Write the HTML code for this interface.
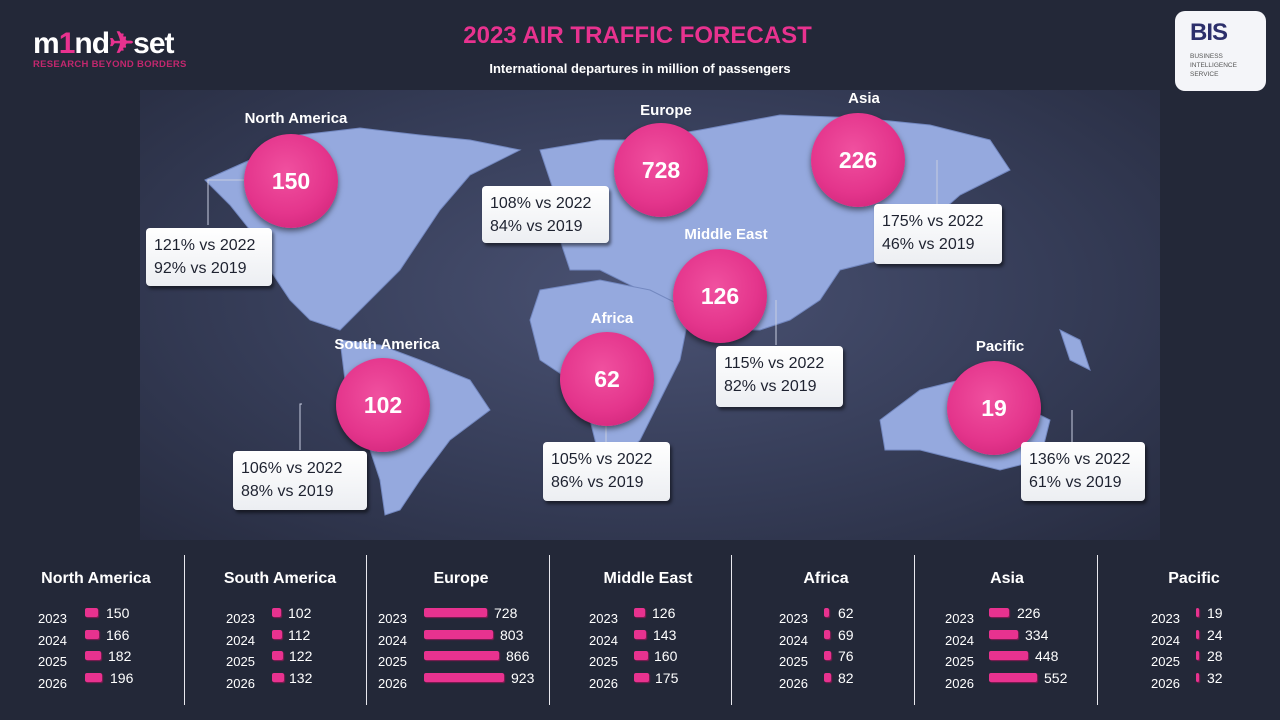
<!DOCTYPE html>
<html><head><meta charset="utf-8"><style>
*{margin:0;padding:0;box-sizing:border-box}
body{width:1280px;height:720px;overflow:hidden;background:#232838;font-family:"Liberation Sans",sans-serif;position:relative;color:#fff}
.abs{position:absolute}
.bub{position:absolute;width:94px;height:94px;border-radius:50%;background:radial-gradient(circle at 45% 40%,#f0509f 0%,#e4358c 55%,#c81f72 100%);box-shadow:0 3px 6px rgba(0,0,0,.5);color:#fff;font-weight:bold;font-size:23px;text-align:center;line-height:94px;margin:-47px 0 0 -47px}
.lab{position:absolute;font-weight:bold;font-size:15px;color:#fff;transform:translateX(-50%);white-space:nowrap}
.box{position:absolute;background:linear-gradient(#fff,#eceef2);border-radius:4px;box-shadow:2px 3px 3px rgba(0,0,0,.5);color:#1e2230;font-size:16px;line-height:23px;padding:6px 0 0 8px}
.col{position:absolute;top:570px;width:180px}
.col h3{font-size:16px;font-weight:bold;text-align:center;margin-bottom:19px}
.row{position:relative;height:21.5px;font-size:13px}
.row .y{position:absolute;top:4px}
.row .b{position:absolute;top:1px;height:9px;background:#e8328f;border-radius:2px;box-shadow:1px 1px 1px #8a1a55}
.row .v{position:absolute;top:-2px;font-size:14px}
.div{position:absolute;top:555px;width:1px;height:150px;background:#e8e8ee}
</style></head><body>
<div class="abs" style="left:140px;top:90px;width:1020px;height:450px;background:radial-gradient(ellipse at 50% 45%,#4a5273 0%,#363d58 55%,#272c40 100%)"></div>
<svg class="abs" style="left:0;top:0" width="1280" height="720">
<g fill="#95a9de" stroke="#7388c0" stroke-width="1">
<path d="M205 180 L250 160 L300 135 L360 128 L420 135 L470 140 L520 150 L470 175 L440 210 L420 240 L400 270 L370 300 L340 330 L310 320 L290 300 L270 270 L250 230 L230 205 Z"/>
<path d="M340 340 L380 345 L420 360 L470 380 L490 410 L450 440 L420 480 L400 510 L385 515 L380 480 L360 420 L345 380 Z"/>
<path d="M540 150 L600 140 L640 140 L700 130 L780 115 L860 118 L930 125 L990 140 L1010 170 L960 195 L920 230 L880 260 L840 270 L820 300 L790 320 L760 330 L730 330 L700 320 L670 300 L640 290 L600 270 L570 270 L560 240 L560 210 L550 180 Z"/>
<path d="M540 290 L600 280 L650 290 L690 310 L680 360 L660 400 L640 440 L620 460 L600 460 L590 420 L570 380 L540 360 L530 320 Z"/>
<path d="M880 420 L920 390 L960 380 L1000 395 L1050 420 L1040 460 L1000 470 L960 460 L920 450 L885 450 Z"/>
<path d="M1060 330 L1080 340 L1090 370 L1070 360 Z"/>
</g>
<g stroke="#c8cde0" stroke-width="1" fill="none">
<path d="M208 225 V180 H245"/><path d="M302 404 H300 V450"/><path d="M606 420 V445"/><path d="M776 300 V345"/><path d="M937 160 V205"/><path d="M1072 410 V445"/>
</g>
</svg>
<div class="abs" style="left:33px;top:26px;font-size:30px;font-weight:900;letter-spacing:-1px;color:#fff;font-family:'Liberation Sans',sans-serif">m<span style="color:#e8328f">1</span>nd<span style="color:#e8328f">✈</span>set</div>
<div class="abs" style="left:33px;top:59px;font-size:9.5px;font-weight:bold;color:#c2276e;letter-spacing:0.3px">RESEARCH BEYOND BORDERS</div>
<div class="abs" style="left:0;width:1275px;top:22px;text-align:center;font-size:24px;font-weight:bold;color:#e8328f">2023 AIR TRAFFIC FORECAST</div>
<div class="abs" style="left:0;width:1280px;top:61px;text-align:center;font-size:13px;font-weight:bold;color:#fff">International departures in million of passengers</div>
<div class="abs" style="left:1175px;top:11px;width:91px;height:80px;background:#f4f5f9;border-radius:10px;color:#2c2f6b">
<div style="position:absolute;left:15px;top:8px;font-size:24px;font-weight:900;letter-spacing:-1px">BIS</div>
<div style="position:absolute;left:15px;top:41px;font-size:6.5px;line-height:9px;color:#555">BUSINESS<br>INTELLIGENCE<br>SERVICE</div></div>

<div class="lab" style="left:296px;top:110px">North America</div><div class="bub" style="left:291px;top:181px">150</div>
<div class="lab" style="left:666px;top:102px">Europe</div><div class="bub" style="left:661px;top:170px">728</div>
<div class="lab" style="left:864px;top:90px">Asia</div><div class="bub" style="left:858px;top:160px">226</div>
<div class="lab" style="left:726px;top:226px">Middle East</div><div class="bub" style="left:720px;top:296px">126</div>
<div class="lab" style="left:387px;top:336px">South America</div><div class="bub" style="left:383px;top:405px">102</div>
<div class="lab" style="left:612px;top:310px">Africa</div><div class="bub" style="left:607px;top:379px">62</div>
<div class="lab" style="left:1000px;top:338px">Pacific</div><div class="bub" style="left:994px;top:408px">19</div>

<div class="box" style="left:146px;top:228px;width:126px;height:58px">121% vs 2022<br>92% vs 2019</div>
<div class="box" style="left:482px;top:186px;width:127px;height:57px">108% vs 2022<br>84% vs 2019</div>
<div class="box" style="left:874px;top:204px;width:128px;height:60px">175% vs 2022<br>46% vs 2019</div>
<div class="box" style="left:716px;top:346px;width:127px;height:61px">115% vs 2022<br>82% vs 2019</div>
<div class="box" style="left:233px;top:451px;width:134px;height:59px">106% vs 2022<br>88% vs 2019</div>
<div class="box" style="left:543px;top:442px;width:127px;height:59px">105% vs 2022<br>86% vs 2019</div>
<div class="box" style="left:1021px;top:442px;width:124px;height:59px">136% vs 2022<br>61% vs 2019</div>

<div class="div" style="left:184px"></div><div class="div" style="left:366px"></div><div class="div" style="left:549px"></div><div class="div" style="left:731px"></div><div class="div" style="left:914px"></div><div class="div" style="left:1097px"></div>

<div class="col" style="left:6px"><h3>North America</h3>
<div class="row"><span class="y" style="left:32px">2023</span><span class="b" style="left:79px;width:13px"></span><span class="v" style="left:100px">150</span></div>
<div class="row"><span class="y" style="left:32px">2024</span><span class="b" style="left:79px;width:14px"></span><span class="v" style="left:100px">166</span></div>
<div class="row"><span class="y" style="left:32px">2025</span><span class="b" style="left:79px;width:16px"></span><span class="v" style="left:102px">182</span></div>
<div class="row"><span class="y" style="left:32px">2026</span><span class="b" style="left:79px;width:17px"></span><span class="v" style="left:104px">196</span></div></div>

<div class="col" style="left:190px"><h3>South America</h3>
<div class="row"><span class="y" style="left:36px">2023</span><span class="b" style="left:82px;width:9px"></span><span class="v" style="left:98px">102</span></div>
<div class="row"><span class="y" style="left:36px">2024</span><span class="b" style="left:82px;width:10px"></span><span class="v" style="left:98px">112</span></div>
<div class="row"><span class="y" style="left:36px">2025</span><span class="b" style="left:82px;width:11px"></span><span class="v" style="left:99px">122</span></div>
<div class="row"><span class="y" style="left:36px">2026</span><span class="b" style="left:82px;width:12px"></span><span class="v" style="left:99px">132</span></div></div>

<div class="col" style="left:371px"><h3>Europe</h3>
<div class="row"><span class="y" style="left:7px">2023</span><span class="b" style="left:53px;width:63px"></span><span class="v" style="left:123px">728</span></div>
<div class="row"><span class="y" style="left:7px">2024</span><span class="b" style="left:53px;width:69px"></span><span class="v" style="left:129px">803</span></div>
<div class="row"><span class="y" style="left:7px">2025</span><span class="b" style="left:53px;width:75px"></span><span class="v" style="left:135px">866</span></div>
<div class="row"><span class="y" style="left:7px">2026</span><span class="b" style="left:53px;width:80px"></span><span class="v" style="left:140px">923</span></div></div>

<div class="col" style="left:558px"><h3>Middle East</h3>
<div class="row"><span class="y" style="left:31px">2023</span><span class="b" style="left:76px;width:11px"></span><span class="v" style="left:94px">126</span></div>
<div class="row"><span class="y" style="left:31px">2024</span><span class="b" style="left:76px;width:12px"></span><span class="v" style="left:95px">143</span></div>
<div class="row"><span class="y" style="left:31px">2025</span><span class="b" style="left:76px;width:14px"></span><span class="v" style="left:96px">160</span></div>
<div class="row"><span class="y" style="left:31px">2026</span><span class="b" style="left:76px;width:15px"></span><span class="v" style="left:97px">175</span></div></div>

<div class="col" style="left:736px"><h3>Africa</h3>
<div class="row"><span class="y" style="left:43px">2023</span><span class="b" style="left:88px;width:5px"></span><span class="v" style="left:102px">62</span></div>
<div class="row"><span class="y" style="left:43px">2024</span><span class="b" style="left:88px;width:6px"></span><span class="v" style="left:102px">69</span></div>
<div class="row"><span class="y" style="left:43px">2025</span><span class="b" style="left:88px;width:7px"></span><span class="v" style="left:102px">76</span></div>
<div class="row"><span class="y" style="left:43px">2026</span><span class="b" style="left:88px;width:7px"></span><span class="v" style="left:102px">82</span></div></div>

<div class="col" style="left:917px"><h3>Asia</h3>
<div class="row"><span class="y" style="left:28px">2023</span><span class="b" style="left:72px;width:20px"></span><span class="v" style="left:100px">226</span></div>
<div class="row"><span class="y" style="left:28px">2024</span><span class="b" style="left:72px;width:29px"></span><span class="v" style="left:108px">334</span></div>
<div class="row"><span class="y" style="left:28px">2025</span><span class="b" style="left:72px;width:39px"></span><span class="v" style="left:118px">448</span></div>
<div class="row"><span class="y" style="left:28px">2026</span><span class="b" style="left:72px;width:48px"></span><span class="v" style="left:127px">552</span></div></div>

<div class="col" style="left:1104px"><h3>Pacific</h3>
<div class="row"><span class="y" style="left:47px">2023</span><span class="b" style="left:92px;width:3px"></span><span class="v" style="left:103px">19</span></div>
<div class="row"><span class="y" style="left:47px">2024</span><span class="b" style="left:92px;width:3px"></span><span class="v" style="left:103px">24</span></div>
<div class="row"><span class="y" style="left:47px">2025</span><span class="b" style="left:92px;width:3px"></span><span class="v" style="left:103px">28</span></div>
<div class="row"><span class="y" style="left:47px">2026</span><span class="b" style="left:92px;width:3px"></span><span class="v" style="left:103px">32</span></div></div>
</body></html>
